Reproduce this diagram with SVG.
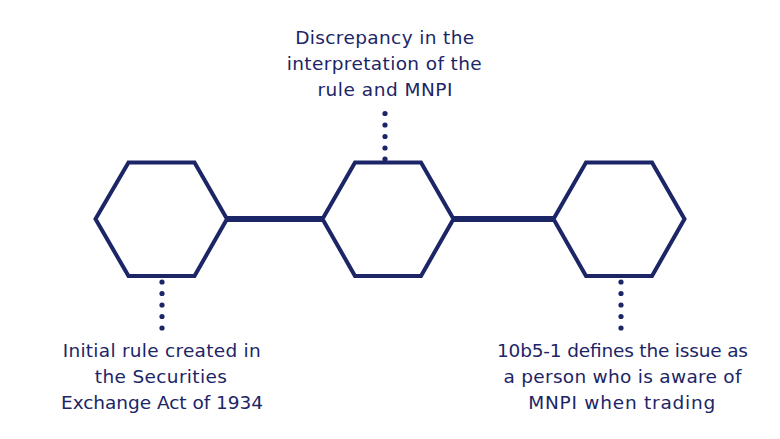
<svg xmlns="http://www.w3.org/2000/svg" width="780" height="439" viewBox="0 0 780 439">
<style>
.hex{fill:#ffffff;stroke:#1c2566;stroke-width:4;stroke-linejoin:miter}
.link{stroke:#1c2566;stroke-width:6}
.dot{fill:#1c2566}
.lbl{font-family:"DejaVu Sans","Liberation Sans",sans-serif;font-size:18.5px;fill:#1c2566;text-anchor:middle}
</style>
<rect width="780" height="439" fill="#ffffff"/>
<g id="connectors">
<line class="link" x1="226" y1="219" x2="323" y2="219"/>
<line class="link" x1="452" y1="219" x2="554" y2="219"/>
<g id="dots1"><circle class="dot" cx="162" cy="282" r="2.6"/><circle class="dot" cx="162" cy="293.5" r="2.6"/><circle class="dot" cx="162" cy="305" r="2.6"/><circle class="dot" cx="162" cy="316.5" r="2.6"/><circle class="dot" cx="162" cy="328" r="2.6"/></g>
<g id="dots2"><circle class="dot" cx="385" cy="113.5" r="2.6"/><circle class="dot" cx="385" cy="125" r="2.6"/><circle class="dot" cx="385" cy="136.5" r="2.6"/><circle class="dot" cx="385" cy="148" r="2.6"/><circle class="dot" cx="385" cy="159" r="2.6"/></g>
<g id="dots3"><circle class="dot" cx="621" cy="282" r="2.6"/><circle class="dot" cx="621" cy="293.5" r="2.6"/><circle class="dot" cx="621" cy="305" r="2.6"/><circle class="dot" cx="621" cy="316.5" r="2.6"/><circle class="dot" cx="621" cy="328" r="2.6"/></g>
</g>
<g id="node1">
<polygon class="hex" points="95.5,219 128.5,162.5 194.5,162.5 227,219 194.5,276 128.5,276"/>
<text class="lbl"><tspan x="161.7" y="357" textLength="198" lengthAdjust="spacing">Initial rule created in</tspan><tspan x="160.8" y="383" textLength="132" lengthAdjust="spacing">the Securities</tspan><tspan x="162" y="409" textLength="202" lengthAdjust="spacing">Exchange Act of 1934</tspan></text>
</g>
<g id="node2">
<polygon class="hex" points="322.5,219 355,162.5 421,162.5 453.5,219 421,276 355,276"/>
<text class="lbl"><tspan x="384.7" y="44" textLength="179" lengthAdjust="spacing">Discrepancy in the</tspan><tspan x="384.2" y="70" textLength="195" lengthAdjust="spacing">interpretation of the</tspan><tspan x="385" y="95.5" textLength="135" lengthAdjust="spacing">rule and MNPI</tspan></text>
</g>
<g id="node3">
<polygon class="hex" points="553.5,219 586,162.5 652,162.5 684.5,219 652,276 586,276"/>
<text class="lbl"><tspan x="622.5" y="357" textLength="251" lengthAdjust="spacing">10b5-1 defines the issue as</tspan><tspan x="622.5" y="383" textLength="238" lengthAdjust="spacing">a person who is aware of</tspan><tspan x="621.7" y="409" textLength="187" lengthAdjust="spacing">MNPI when trading</tspan></text>
</g>
</svg>
